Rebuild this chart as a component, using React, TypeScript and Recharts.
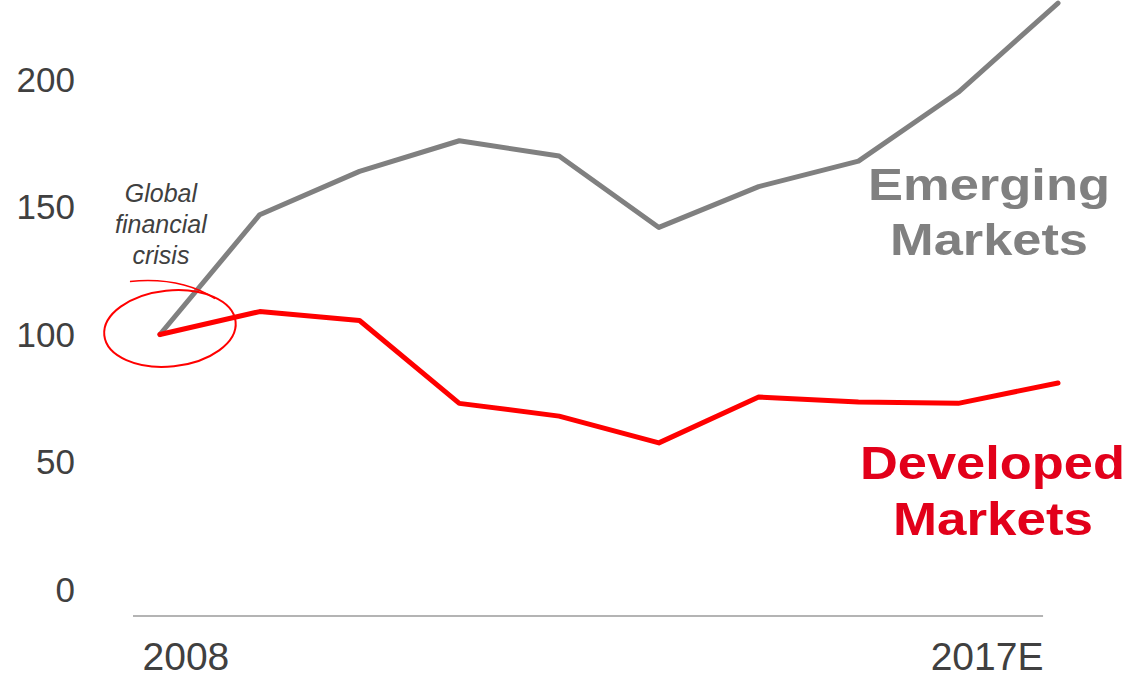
import React from "react";
import {
    LineChart,
    Line,
    XAxis,
    YAxis,
    ReferenceLine,
    ReferenceDot,
    Customized,
} from "recharts";

const years = [2008, 2009, 2010, 2011, 2012, 2013, 2014, 2015, 2016, 2017];
const emerging = [100, 147, 164, 176, 170, 142, 158, 168, 195, 230];
const developed = [100, 109, 105.5, 73, 68, 57.5, 75.5, 73.5, 73, 81];
const yTicks = [0, 50, 100, 150, 200];
const xTicks = [2008, 2017];
const xTickLabels: Record<number, string> = { 2008: "2008", 2017: "2017E" };

const data = years.map((year, i) => ({
    year,
    emerging: emerging[i],
    developed: developed[i],
}));

const FONT = "'Liberation Sans', Arial, sans-serif";

// x labels in the source sit off-centre from their points
const XTick = (props: any) => {
    const { x, y, payload } = props;
    const shift = payload.value === 2008 ? 26 : -71;
    return (
        <text
            x={x + shift}
            y={y + 54}
            textAnchor="middle"
            fontSize={39}
            fontFamily={FONT}
            fill="#404040"
        >
            {xTickLabels[payload.value]}
        </text>
    );
};

const CrisisNote = (props: any) => {
    const { cx, cy } = props;
    const ex = cx + 10;
    const ey = cy - 6;
    return (
        <g>
            <text fontFamily={FONT} fontSize={25} fontStyle="italic" fill="#404040" textAnchor="middle">
                <tspan x={cx + 1} y={cy - 133}>Global</tspan>
                <tspan x={cx + 1} y={cy - 102}>financial</tspan>
                <tspan x={cx + 1} y={cy - 71}>crisis</tspan>
            </text>
            <ellipse
                cx={ex}
                cy={ey}
                rx={66}
                ry={38}
                fill="none"
                stroke="#ff0000"
                strokeWidth={2}
                transform={`rotate(-6 ${ex} ${ey})`}
            />
            <path
                d={`M ${ex - 40} ${ey - 47} Q ${ex + 10} ${ey - 52} ${ex + 45} ${ey - 30}`}
                fill="none"
                stroke="#ff0000"
                strokeWidth={1.5}
            />
        </g>
    );
};

// the source text is a little wider than Arial, so stretch each line to its measured width
const SeriesLabels = () => (
    <g fontFamily={FONT} fontWeight="bold">
        <text fill="#808080" fontSize={45}>
            <tspan x={868} y={200} textLength={242} lengthAdjust="spacingAndGlyphs">Emerging</tspan>
        </text>
        <text fill="#808080" fontSize={45}>
            <tspan x={890} y={255} textLength={198} lengthAdjust="spacingAndGlyphs">Markets</tspan>
        </text>
        <text fill="#e2001a" fontSize={46}>
            <tspan x={860} y={479} textLength={265} lengthAdjust="spacingAndGlyphs">Developed</tspan>
        </text>
        <text fill="#e2001a" fontSize={46}>
            <tspan x={893} y={535} textLength={200} lengthAdjust="spacingAndGlyphs">Markets</tspan>
        </text>
    </g>
);

export default function App() {
    return (
        <div style={{ position: "absolute", left: 0, top: 0, width: 1127, height: 678, background: "#fff" }}>
            <LineChart
                width={1127}
                height={678}
                data={data}
                margin={{ top: 0, right: 57, bottom: 0, left: 0 }}
            >
                <XAxis
                    dataKey="year"
                    type="number"
                    domain={[2007.73, 2017.12]}
                    ticks={xTicks}
                    axisLine={false}
                    tickLine={false}
                    tickSize={0}
                    tickMargin={0}
                    height={62}
                    tick={<XTick />}
                    allowDataOverflow
                />
                <YAxis
                    type="number"
                    domain={[-10.4, 231.2]}
                    ticks={yTicks}
                    axisLine={false}
                    tickLine={false}
                    tickSize={0}
                    tickMargin={58}
                    width={133}
                    allowDataOverflow
                    tick={{ fontSize: 35, fill: "#404040", fontFamily: FONT }}
                />
                <ReferenceLine
                    segment={[
                        { x: 2007.73, y: -10.4 },
                        { x: 2016.85, y: -10.4 },
                    ]}
                    stroke="#b4b4b4"
                    strokeWidth={2}
                    ifOverflow="visible"
                />
                <Line
                    dataKey="emerging"
                    stroke="#808080"
                    strokeWidth={5}
                    strokeLinecap="round"
                    strokeLinejoin="round"
                    dot={false}
                    isAnimationActive={false}
                />
                <Line
                    dataKey="developed"
                    stroke="#ff0000"
                    strokeWidth={5}
                    strokeLinecap="round"
                    strokeLinejoin="round"
                    dot={false}
                    isAnimationActive={false}
                />
                <ReferenceDot x={2008} y={100} ifOverflow="visible" shape={<CrisisNote />} />
                <Customized component={SeriesLabels} />
            </LineChart>
        </div>
    );
}
